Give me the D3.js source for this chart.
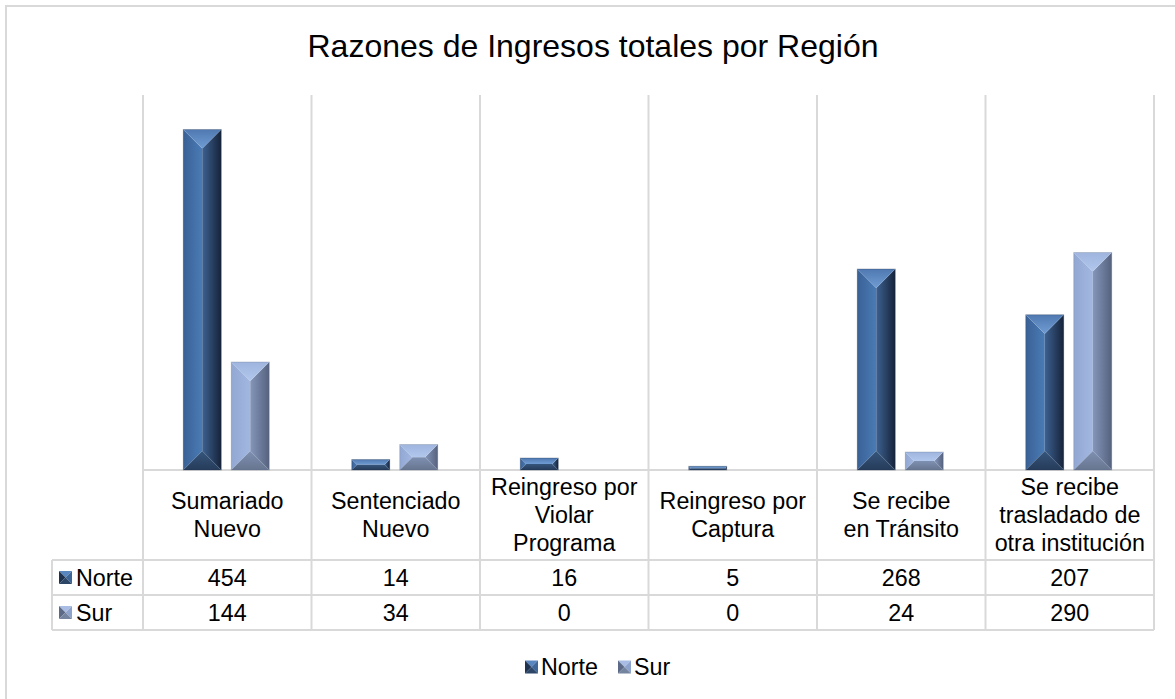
<!DOCTYPE html>
<html>
<head>
<meta charset="utf-8">
<script src="https://cdn.jsdelivr.net/npm/d3@7"></script>
<style>
  html, body { margin: 0; padding: 0; background: #ffffff; }
  svg { display: block; font-family: "Liberation Sans", Arial, sans-serif; }
</style>
</head>
<body>
<svg id="chart" width="1175" height="699"></svg>
<script>
const title = "Razones de Ingresos totales por Región";
const categories = [
  ["Sumariado", "Nuevo"],
  ["Sentenciado", "Nuevo"],
  ["Reingreso por", "Violar", "Programa"],
  ["Reingreso por", "Captura"],
  ["Se recibe", "en Tránsito"],
  ["Se recibe", "trasladado de", "otra institución"]
];
const seriesNames = ["Norte", "Sur"];
const norte = [454, 14, 16, 5, 268, 207];
const sur = [144, 34, 0, 0, 24, 290];
const yDomain = [0, 500];

const svg = d3.select("#chart");
const W = 1175, H = 699;
const plot = { left: 143, right: 1154, top: 95, bottom: 470 };
const tableLeft = 52;
const rowLabelBottom = 560, row1Bottom = 595, row2Bottom = 630;
const gridColor = "#d9d9d9";
const fs = 23.3;

// outer border
svg.append("rect").attr("x", 6).attr("y", 6).attr("width", W).attr("height", H)
  .attr("fill", "#fff").attr("stroke", gridColor).attr("stroke-width", 2);

// gradients
const defs = svg.append("defs");
function hgrad(id, stops) {
  const g = defs.append("linearGradient").attr("id", id)
    .attr("x1", "0").attr("y1", "0").attr("x2", "1").attr("y2", "0");
  stops.forEach(s => g.append("stop").attr("offset", s[0]).attr("stop-color", s[1]));
}
function vgrad(id, stops) {
  const g = defs.append("linearGradient").attr("id", id)
    .attr("x1", "0").attr("y1", "0").attr("x2", "0").attr("y2", "1");
  stops.forEach(s => g.append("stop").attr("offset", s[0]).attr("stop-color", s[1]));
}
const pal = {
  Norte: { left: ["#3a6196", "#4a7bb5"], right: ["#3d6190", "#16233a"], top: ["#4f79b0", "#709cd4"], bottom: ["#36557c", "#263c5a"] },
  Sur: { left: ["#92a8d3", "#a2b7e0"], right: ["#8496ba", "#56627e"], top: ["#9fb5de", "#b2c7ec"], bottom: ["#7e90b2", "#67758f"] }
};
seriesNames.forEach(n => {
  const p = pal[n];
  hgrad(n + "-left", [[0, p.left[0]], [1, p.left[1]]]);
  hgrad(n + "-right", [[0, p.right[0]], [1, p.right[1]]]);
  vgrad(n + "-top", [[0, p.top[0]], [1, p.top[1]]]);
  vgrad(n + "-bottom", [[0, p.bottom[0]], [1, p.bottom[1]]]);
});

// scales
const x = d3.scaleBand().domain(d3.range(categories.length)).range([plot.left, plot.right]).paddingInner(0).paddingOuter(0);
const y = d3.scaleLinear().domain(yDomain).range([plot.bottom, plot.top]);
const barW = 38, gap = 10;

// grid / table lines
const g = svg.append("g").attr("stroke", gridColor).attr("stroke-width", 2).attr("fill", "none");
const bounds = d3.range(categories.length + 1).map(i => i < categories.length ? x(i) : plot.right);
bounds.forEach(bx => {
  g.append("line").attr("x1", bx).attr("x2", bx).attr("y1", plot.top).attr("y2", row2Bottom);
});
g.append("line").attr("x1", tableLeft).attr("x2", tableLeft).attr("y1", rowLabelBottom).attr("y2", row2Bottom);
g.append("line").attr("x1", plot.left).attr("x2", plot.right).attr("y1", plot.bottom).attr("y2", plot.bottom);
[rowLabelBottom, row1Bottom, row2Bottom].forEach(yy => {
  g.append("line").attr("x1", tableLeft).attr("x2", plot.right).attr("y1", yy).attr("y2", yy);
});

// bevel bar drawing
function bevel(sel, name, x0, y0, w, h) {
  if (h <= 0) return;
  const x1 = x0 + w, y1 = y0 + h;
  const b = Math.min(w / 2, h / 2, 19);
  const gg = sel.append("g");
  gg.append("polygon").attr("points", [[x0, y0], [x0 + b, y0 + b], [x0 + b, y1 - b], [x0, y1]].join(" "))
    .attr("fill", `url(#${name}-left)`);
  gg.append("rect").attr("x", x0 + b).attr("y", y0 + b).attr("width", Math.max(0, w - 2 * b)).attr("height", Math.max(0, h - 2 * b))
    .attr("fill", `url(#${name}-right)`);
  gg.append("polygon").attr("points", [[x1, y0], [x1 - b, y0 + b], [x1 - b, y1 - b], [x1, y1]].join(" "))
    .attr("fill", `url(#${name}-right)`);
  gg.append("polygon").attr("points", [[x0, y0], [x1, y0], [x1 - b, y0 + b], [x0 + b, y0 + b]].join(" "))
    .attr("fill", `url(#${name}-top)`);
  gg.append("polygon").attr("points", [[x0, y1], [x1, y1], [x1 - b, y1 - b], [x0 + b, y1 - b]].join(" "))
    .attr("fill", `url(#${name}-bottom)`);
  gg.append("rect").attr("x", x0).attr("y", y0).attr("width", w).attr("height", h)
    .attr("fill", "none").attr("stroke", name === "Norte" ? "#1c2e48" : "#5a6a88").attr("stroke-opacity", 0.35).attr("stroke-width", 0.8);
}

const values = { Norte: norte, Sur: sur };
const bars = svg.append("g");
categories.forEach((c, i) => {
  const groupW = barW * 2 + gap;
  const gx = x(i) + (x.bandwidth() - groupW) / 2 - 1;
  seriesNames.forEach((n, si) => {
    const v = values[n][i];
    const bx = gx + si * (barW + gap);
    bevel(bars, n, bx, y(v), barW, y(0) - y(v));
  });
});

// title
svg.append("text").attr("x", 593).attr("y", 57).attr("text-anchor", "middle")
  .attr("font-size", 32).attr("fill", "#000").text(title);

// category labels
const lineH = 28;
const labelMid = (plot.bottom + rowLabelBottom) / 2;
categories.forEach((lines, i) => {
  const cx = x(i) + x.bandwidth() / 2;
  const t = svg.append("text").attr("text-anchor", "middle").attr("font-size", fs).attr("fill", "#000");
  lines.forEach((ln, li) => {
    const cy = labelMid + (li - (lines.length - 1) / 2) * lineH;
    t.append("tspan").attr("x", cx).attr("y", cy + 8).text(ln);
  });
});

// key glyph
function key(sel, name, kx, ky, s) {
  const m = [kx + s / 2, ky + s / 2];
  const dark = name === "Norte" ? "#1f3350" : "#5c6a88";
  const mid = name === "Norte" ? "#3e6699" : "#8ea3cc";
  const light = name === "Norte" ? "#5a86bf" : "#a9bde4";
  const bot = name === "Norte" ? "#2c4668" : "#74849f";
  sel.append("polygon").attr("points", [[kx, ky], [kx + s, ky], m].join(" ")).attr("fill", light);
  sel.append("polygon").attr("points", [[kx, ky], [kx, ky + s], m].join(" ")).attr("fill", dark);
  sel.append("polygon").attr("points", [[kx + s, ky], [kx + s, ky + s], m].join(" ")).attr("fill", mid);
  sel.append("polygon").attr("points", [[kx, ky + s], [kx + s, ky + s], m].join(" ")).attr("fill", bot);
}

// table rows
const rows = [
  { name: "Norte", vals: norte, top: rowLabelBottom, bottom: row1Bottom },
  { name: "Sur", vals: sur, top: row1Bottom, bottom: row2Bottom }
];
rows.forEach(r => {
  const cy = (r.top + r.bottom) / 2;
  key(svg, r.name, 59, cy - 6.5, 13);
  svg.append("text").attr("x", 76).attr("y", cy + 8).attr("font-size", fs).attr("fill", "#000").text(r.name);
  r.vals.forEach((v, i) => {
    svg.append("text").attr("x", x(i) + x.bandwidth() / 2).attr("y", cy + 8)
      .attr("text-anchor", "middle").attr("font-size", fs).attr("fill", "#000").text(v);
  });
});

// bottom legend
const legendY = 667;
const lg = svg.append("g");
key(lg, "Norte", 525, legendY - 6.5, 13);
lg.append("text").attr("x", 541).attr("y", legendY + 8).attr("font-size", fs).attr("fill", "#000").text("Norte");
key(lg, "Sur", 618, legendY - 6.5, 13);
lg.append("text").attr("x", 634).attr("y", legendY + 8).attr("font-size", fs).attr("fill", "#000").text("Sur");
</script>
</body>
</html>
